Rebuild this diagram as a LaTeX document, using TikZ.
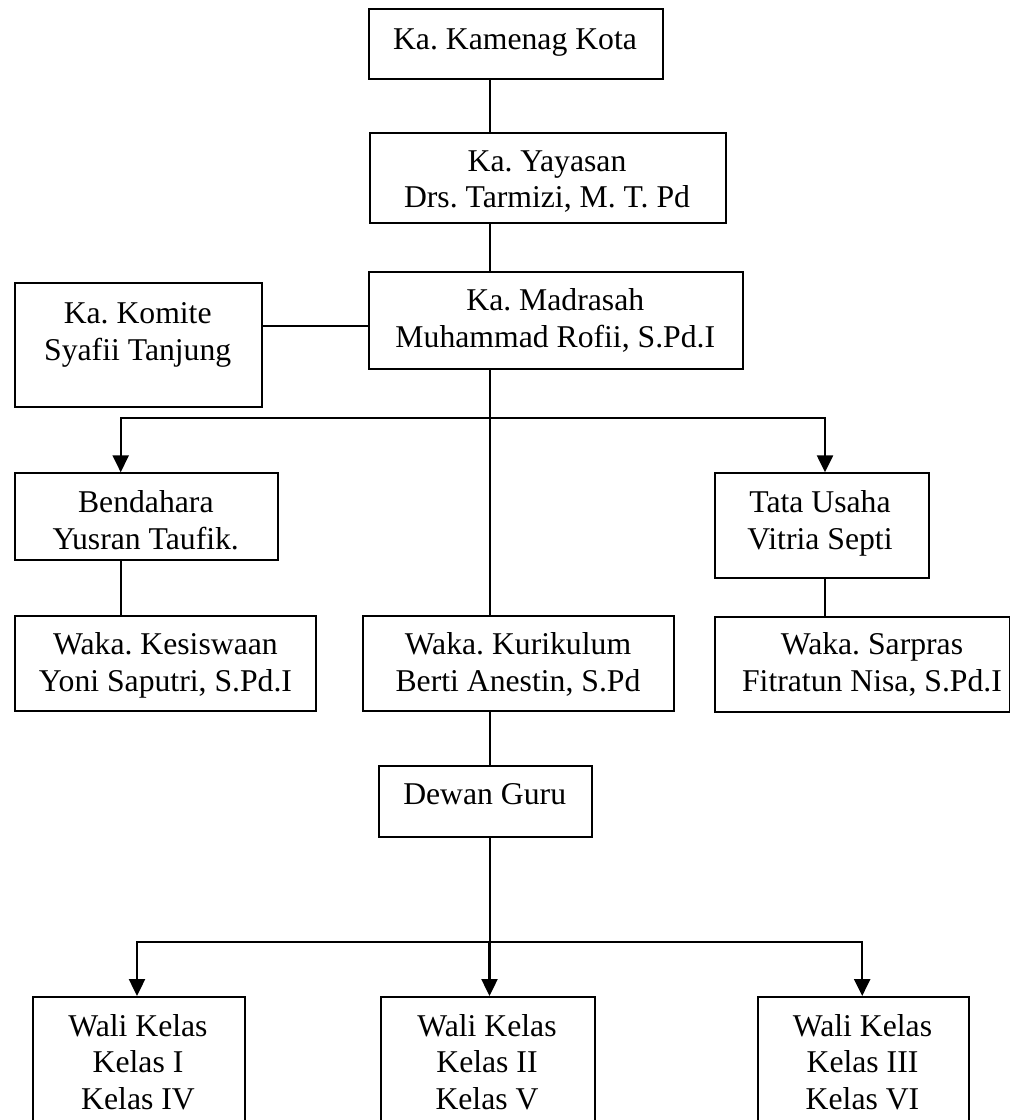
\documentclass[tikz,border=0pt]{standalone}
\usepackage{fontspec}
\setmainfont{Liberation Serif}[Ligatures=CommonOff]
\usetikzlibrary{arrows.meta}
\frenchspacing
\begin{document}
\begin{tikzpicture}[x=1pt,y=-1pt,
  box/.style={draw, line width=2pt, inner sep=0pt, anchor=north west},
  lbl/.style={font=\fontsize{31.7}{36.5}\selectfont, align=center, inner sep=0pt, anchor=north},
  conn/.style={line width=2pt},
  arr/.style={line width=2.4pt, -{Triangle[length=17pt,width=16pt]}}]
\useasboundingbox (0,0) rectangle (1010,1120);
\fill[white] (0,0) rectangle (1010,1120);
\clip (0,0) rectangle (1010,1120);

% boxes
\node[box, minimum width=293.4pt, minimum height=70pt]   (kam) at (368.3,7.7) {};
\node[box, minimum width=356pt,   minimum height=90pt]   (yay) at (369,131.7) {};
\node[box, minimum width=374pt,   minimum height=97.6pt] (mad) at (368.3,270.7) {};
\node[box, minimum width=246.7pt, minimum height=124pt]  (kom) at (14.3,281.7) {};
\node[box, minimum width=263pt,   minimum height=87pt]   (ben) at (14.3,472.3) {};
\node[box, minimum width=214pt,   minimum height=105pt]  (tu)  at (714.3,472.3) {};
\node[box, minimum width=300.7pt, minimum height=95pt]   (kes) at (14.3,615) {};
\node[box, minimum width=311pt,   minimum height=95pt]   (kur) at (362.3,615) {};
\node[box, minimum width=294.7pt, minimum height=95pt]   (sar) at (714.3,615.5) {};
\node[box, minimum width=212.7pt, minimum height=70.7pt] (dew) at (378.3,765) {};
\node[box, minimum width=212.3pt, minimum height=160pt]  (wa) at (31.7,996) {};
\node[box, minimum width=214pt,   minimum height=160pt]  (wb) at (380,996) {};
\node[box, minimum width=211pt,   minimum height=160pt]  (wc) at (757,996) {};

% texts
\node[lbl] (kamt) at (515,23.75) {\strut Ka. Kamenag Kota};
\node[lbl] (yayt) at (547,145.45) {\strut Ka. Yayasan\\\strut Drs. Tarmizi, M. T. Pd};
\node[lbl] (madt) at (555.3,284.95) {\strut Ka. Madrasah\\\strut Muhammad Rofii, S.Pd.I};
\node[lbl] (komt) at (137.7,297.75) {\strut Ka. Komite\\\strut Syafii Tanjung};
\node[lbl] (bent) at (145.8,487.15) {\strut Bendahara\\\strut Yusran Taufik.};
\node[lbl] (tut)  at (820,487.15) {\strut Tata Usaha\\\strut Vitria Septi};
\node[lbl] (kest) at (165.5,628.95) {\strut Waka. Kesiswaan\\\strut Yoni Saputri, S.Pd.I};
\node[lbl] (kurt) at (518,628.95) {\strut Waka. Kurikulum\\\strut Berti Anestin, S.Pd};
\node[lbl] (sart) at (872,628.95) {\strut Waka. Sarpras\\\strut Fitratun Nisa, S.Pd.I};
\node[lbl] (dewt) at (484.7,778.45) {\strut Dewan Guru};
\node[lbl] (wat)  at (138,1010.45) {\strut Wali Kelas\\\strut Kelas I\\\strut Kelas IV};
\node[lbl] (wbt)  at (487,1010.45) {\strut Wali Kelas\\\strut Kelas II\\\strut Kelas V};
\node[lbl] (wct)  at (862.5,1010.45) {\strut Wali Kelas\\\strut Kelas III\\\strut Kelas VI};

% helper coordinates
\coordinate (spine) at (489.5,0);
\coordinate (komy) at (0,325.7);
\coordinate (benx) at (120.7,0);
\coordinate (tux) at (825,0);
\coordinate (b1) at (489.5,417.7);
\coordinate (b2) at (489.5,941.7);
\coordinate (wax) at (137,0);
\coordinate (wcx) at (862.2,0);

% connectors
\draw[conn] (kam.south -| spine) -- (yay.north -| spine);
\draw[conn] (yay.south -| spine) -- (mad.north -| spine);
\draw[conn] (kom.east |- komy) -- (mad.west |- komy);
\draw[conn] (mad.south -| spine) -- (kur.north -| spine);
\draw[arr] (b1) -| (ben.north -| benx);
\draw[arr] (b1) -| (tu.north -| tux);
\draw[conn] (ben.south -| benx) -- (kes.north -| benx);
\draw[conn] (tu.south -| tux) -- (sar.north -| tux);
\draw[conn] (kur.south -| spine) -- (dew.north -| spine);
\draw[conn] (dew.south -| spine) -- (b2);
\draw[arr] (b2) -| (wa.north -| wax);
\draw[arr] (b2) -- (wb.north -| spine);
\draw[arr] (b2) -| (wc.north -| wcx);
\end{tikzpicture}
\end{document}
